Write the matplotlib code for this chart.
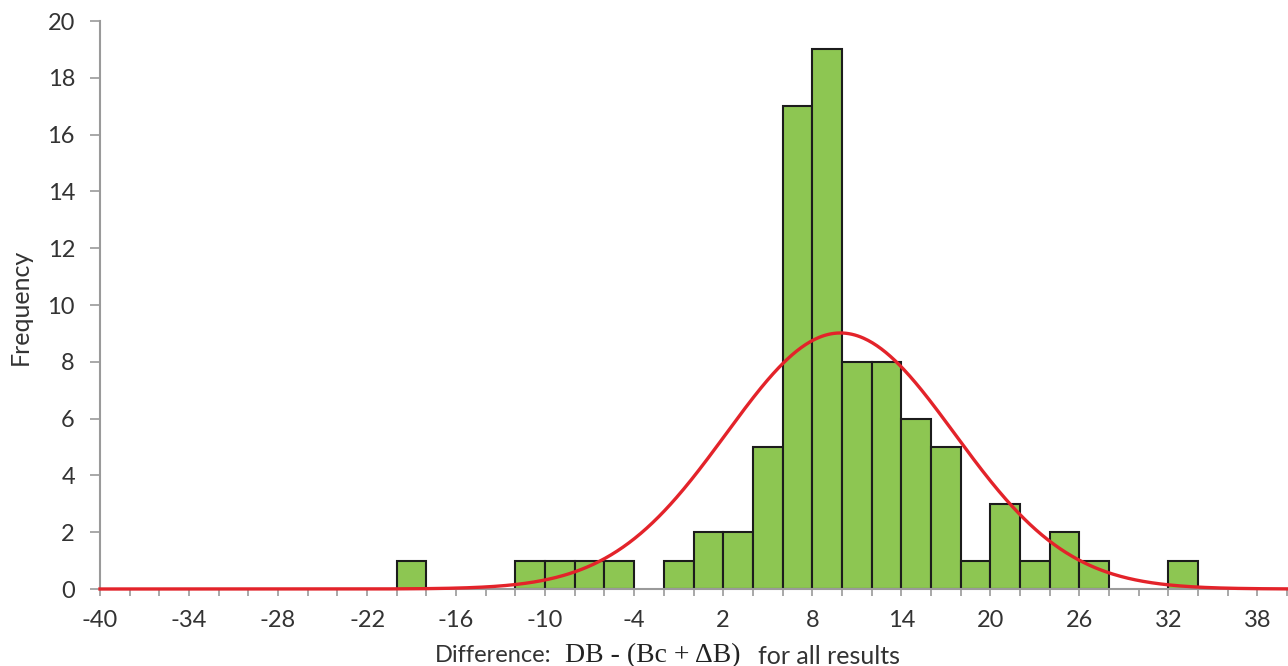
import numpy as np
import matplotlib.pyplot as plt

# bin edges (left side of each bar, width 2) and counts
bin_left = [-20, -12, -10, -8, -6, -2, 0, 2, 4, 6, 8, 10, 12, 14, 16, 18, 20, 22, 24, 26, 32]
counts = [1, 1, 1, 1, 1, 1, 2, 2, 5, 17, 19, 8, 8, 6, 5, 1, 3, 1, 2, 1, 1]
bin_width = 2

# fitted normal curve
fit_mean = 9.9
fit_sd = 7.7

x_ticks = np.arange(-40, 41, 2)
x_labels = [str(v) if (v + 40) % 6 == 0 else '' for v in x_ticks]
y_ticks = np.arange(0, 21, 2)

fig = plt.figure(figsize=(12.88, 6.66), dpi=100)
ax = fig.add_axes([100 / 1288, 1 - 589 / 666, 1187 / 1288, 568 / 666])

ax.bar(bin_left, counts, width=bin_width, align='edge',
       color='#8DC652', edgecolor='#1c1c1c', linewidth=1.5, zorder=2)

xs = np.linspace(-40, 40, 800)
n_total = sum(counts)
curve = n_total * bin_width / (fit_sd * np.sqrt(2 * np.pi)) * np.exp(-(xs - fit_mean) ** 2 / (2 * fit_sd ** 2))
ax.plot(xs, curve, color='#E3232A', linewidth=2.4, zorder=3, clip_on=False)

ax.set_xlim(-40, 40)
ax.set_ylim(0, 20)
ax.set_xticks(x_ticks)
ax.set_xticklabels(x_labels)
ax.set_yticks(y_ticks)

for side in ['top', 'right']:
    ax.spines[side].set_visible(False)
for side in ['left', 'bottom']:
    ax.spines[side].set_color('#9a9a9a')
    ax.spines[side].set_linewidth(1.5)

ax.tick_params(axis='x', length=5, width=1.2, color='#9a9a9a', pad=10,
               labelsize=17, labelcolor='#333333')
ax.tick_params(axis='y', length=7, width=1.2, color='#9a9a9a', pad=11,
               labelsize=17, labelcolor='#333333')
for lab in ax.get_xticklabels() + ax.get_yticklabels():
    lab.set_family('Lato')

fig.text(20 / 1288, 1 - 307 / 666, 'Frequency', rotation=90, ha='center', va='center',
         fontsize=18, family='Lato', color='#333333')

# x label: mixed sans / serif pieces
ly = 1 - 656 / 666
fig.text(435 / 1288, ly, 'Difference:', ha='left', va='center', fontsize=17, family='Lato', color='#333333')
fig.text(565 / 1288, ly, 'DB - (Bc + \u0394B)', ha='left', va='center', fontsize=20,
         family='Liberation Serif', color='#222222')
fig.text(758 / 1288, ly, 'for all results', ha='left', va='center', fontsize=18, family='Lato', color='#333333')

fig.savefig('out.png', dpi=100)
